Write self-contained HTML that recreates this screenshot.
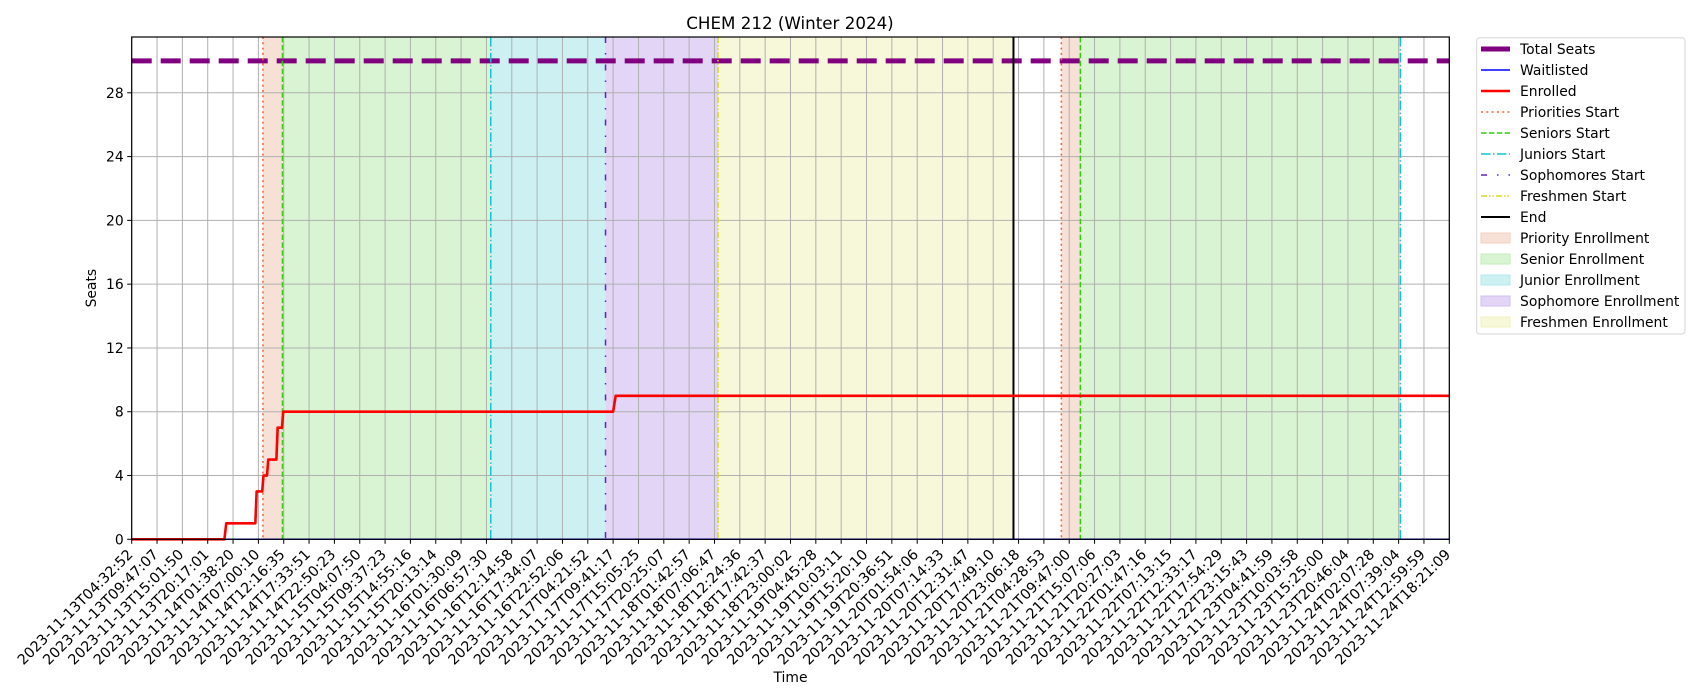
<!DOCTYPE html>
<html><head><meta charset="utf-8"><style>
body{margin:0;background:#fff;}
svg{display:block;font-family:"DejaVu Sans","Liberation Sans",sans-serif;}
</style></head><body>
<svg id="chart" width="1700" height="700" viewBox="0 0 1700 700" xmlns="http://www.w3.org/2000/svg">
<rect width="1700" height="700" fill="#fff"/>
<text x="790" y="29" font-size="16.7" text-anchor="middle" fill="#000">CHEM 212 (Winter 2024)</text>
<g id="spans"></g><g id="grid"></g><g id="marks"></g><g id="axes"></g>
<g id="legend"></g>
</svg>
<script>
const tickLabels=["2023-11-13T04:32:52","2023-11-13T09:47:07","2023-11-13T15:01:50","2023-11-13T20:17:01","2023-11-14T01:38:20","2023-11-14T07:00:10","2023-11-14T12:16:35","2023-11-14T17:33:51","2023-11-14T22:50:23","2023-11-15T04:07:50","2023-11-15T09:37:23","2023-11-15T14:55:16","2023-11-15T20:13:14","2023-11-16T01:30:09","2023-11-16T06:57:30","2023-11-16T12:14:58","2023-11-16T17:34:07","2023-11-16T22:52:06","2023-11-17T04:21:52","2023-11-17T09:41:17","2023-11-17T15:05:25","2023-11-17T20:25:07","2023-11-18T01:42:57","2023-11-18T07:06:47","2023-11-18T12:24:36","2023-11-18T17:42:37","2023-11-18T23:00:02","2023-11-19T04:45:28","2023-11-19T10:03:11","2023-11-19T15:20:10","2023-11-19T20:36:51","2023-11-20T01:54:06","2023-11-20T07:14:33","2023-11-20T12:31:47","2023-11-20T17:49:10","2023-11-20T23:06:18","2023-11-21T04:28:53","2023-11-21T09:47:00","2023-11-21T15:07:06","2023-11-21T20:27:03","2023-11-22T01:47:16","2023-11-22T07:13:15","2023-11-22T12:33:17","2023-11-22T17:54:29","2023-11-22T23:15:43","2023-11-23T04:41:59","2023-11-23T10:03:58","2023-11-23T15:25:00","2023-11-23T20:46:04","2023-11-24T02:07:28","2023-11-24T07:39:04","2023-11-24T12:59:59","2023-11-24T18:21:09"];
const yTicks=[0,4,8,12,16,20,24,28];
const totalSeats=30;
const enrolledX=[0,3.66,3.73,4.88,4.93,5.15,5.2,5.34,5.39,5.71,5.76,5.93,5.98,19.0,19.1,52];
const enrolledY=[0,0,1,1,3,3,4,4,5,5,7,7,8,8,9,9];
const waitlistX=[0,52];
const waitlistY=[0,0];
const spanStarts=[5.18,5.95,14.17,18.7,23.14,36.69,37.44];
const spanEnds=[5.95,14.17,18.7,23.14,34.8,37.44,50.07];
const spanKinds=["priority","senior","junior","sophomore","freshmen","priority","senior"];
const vlineX=[5.18,5.95,14.17,18.7,23.14,34.8,36.69,37.44,50.07];
const vlineKinds=["priorities","seniors","juniors","sophomores","freshmen","end","priorities","seniors","juniors"];

const L=131.7,R=1449.3,T=37,B=539.3,YMAX=31.5;
const xs=i=>L+i*(R-L)/52;
const ys=v=>B-v*(B-T)/YMAX;
const NS="http://www.w3.org/2000/svg";
function mk(tag,parent,attrs){const e=document.createElementNS(NS,tag);for(const k in attrs)e.setAttribute(k,attrs[k]);document.getElementById(parent).appendChild(e);return e;}
const spanFill={priority:"#f7e0d6",senior:"#d9f4d2",junior:"#cdf0f2",sophomore:"#e2d5f5",freshmen:"#f7f8da"};
const vstyle={priorities:["#f0642c","1.5","2,3.3"],seniors:["#33cc11","1.5","5.5,2.4"],juniors:["#11c6d2","1.5","9.6,2.4,1.5,2.4"],sophomores:["#6020d0","1.5","6,10,1.5,10"],freshmen:["#dada22","1.5","6,2,1.5,2,1.5,2"],end:["#000","2",""]};

spanStarts.forEach((s,i)=>{
  const r=mk("rect","spans",{x:xs(s),y:T,width:xs(spanEnds[i])-xs(s),height:B-T,fill:spanFill[spanKinds[i]]});
  
  
});
tickLabels.forEach((t,i)=>{
  const x=xs(i);
  const g=mk("line","grid",{x1:x,x2:x,y1:T,y2:B,stroke:"#b0b0b0","stroke-width":1});
  
  
  const tk=mk("line","axes",{x1:x,x2:x,y1:B,y2:B+4.5,stroke:"#000","stroke-width":1});
  
  
  const tx=mk("text","axes",{x:0,y:0,"font-size":14.3,"text-anchor":"end",transform:`translate(${x+2},${B+16}) rotate(-45)`,fill:"#000"});
  tx.textContent=t;
  
  
});
yTicks.forEach(v=>{
  const y=ys(v);
  const g=mk("line","grid",{x1:L,x2:R,y1:y,y2:y,stroke:"#b0b0b0","stroke-width":1});
  
  
  const tk=mk("line","axes",{x1:L-4.5,x2:L,y1:y,y2:y,stroke:"#000","stroke-width":1});
  
  
  const tx=mk("text","axes",{x:L-8,y:y+5,"font-size":13.9,"text-anchor":"end",fill:"#000"});
  tx.textContent=v;
  
  
});
const ts=mk("line","marks",{x1:L,x2:R,y1:ys(totalSeats),y2:ys(totalSeats),stroke:"#800080","stroke-width":5,"stroke-dasharray":"20,9"});


vlineX.forEach((v,i)=>{
  const s=vstyle[vlineKinds[i]];
  const l=mk("line","marks",{x1:xs(v),x2:xs(v),y1:T,y2:B,stroke:s[0],"stroke-width":s[1],"stroke-dasharray":s[2]});
  
  
});
const wl=mk("polyline","marks",{points:waitlistX.map((x,i)=>xs(x)+","+ys(waitlistY[i])).join(" "),fill:"none",stroke:"#0000ff","stroke-width":1.5});


const en=mk("polyline","marks",{points:enrolledX.map((x,i)=>xs(x)+","+ys(enrolledY[i])).join(" "),fill:"none",stroke:"#ff0000","stroke-width":2.6,"stroke-linejoin":"round"});


const fr=mk("rect","axes",{x:L,y:T,width:R-L,height:B-T,fill:"none",stroke:"#000","stroke-width":1.2});


const xt=mk("text","axes",{x:(L+R)/2,y:682,"font-size":13.9,"text-anchor":"middle"});
xt.textContent="Time";


const yt=mk("text","axes",{x:0,y:0,"font-size":13.9,"text-anchor":"middle",transform:`translate(96,${(T+B)/2}) rotate(-90)`});
yt.textContent="Seats";



const lb=mk("rect","legend",{x:1476.7,y:37.7,width:208.3,height:296.3,rx:3,fill:"#fff",stroke:"#d6d6d6","stroke-width":1});


const legNames=["Total Seats","Waitlisted","Enrolled","Priorities Start","Seniors Start","Juniors Start","Sophomores Start","Freshmen Start","End","Priority Enrollment","Senior Enrollment","Junior Enrollment","Sophomore Enrollment","Freshmen Enrollment"];
const legLine=[["#800080",5,""],["#0000ff",1.5,""],["#ff0000",2.6,""],["#f0642c",1.5,"2,3.3"],["#33cc11",1.5,"5.5,2.4"],["#11c6d2",1.5,"9.6,2.4,1.5,2.4"],["#6020d0",1.5,"6,10,1.5,10"],["#dada22",1.5,"6,2,1.5,2,1.5,2"],["#000",2,""]];
const legFill=["#f7e0d6","#d9f4d2","#cdf0f2","#e2d5f5","#f7f8da"];
const legEdge=["#f2cfc0","#c4ecba","#b5e8ec","#d2bff0","#eff0bd"];
legNames.forEach((n,i)=>{
  const y=49+i*21;
  if(i<9){
    const s=legLine[i];
    const h=mk("line","legend",{x1:1481,x2:1510,y1:y,y2:y,stroke:s[0],"stroke-width":s[1],"stroke-dasharray":s[2]});
    
    
  } else {
    const h=mk("rect","legend",{x:1481,y:y-5,width:29,height:10,fill:legFill[i-9],stroke:legEdge[i-9],"stroke-width":1});
    
    
  }
  const t=mk("text","legend",{x:1520,y:y+5,"font-size":13.9,fill:"#000"});
  t.textContent=n;
  
  
});
</script>
</body></html>
